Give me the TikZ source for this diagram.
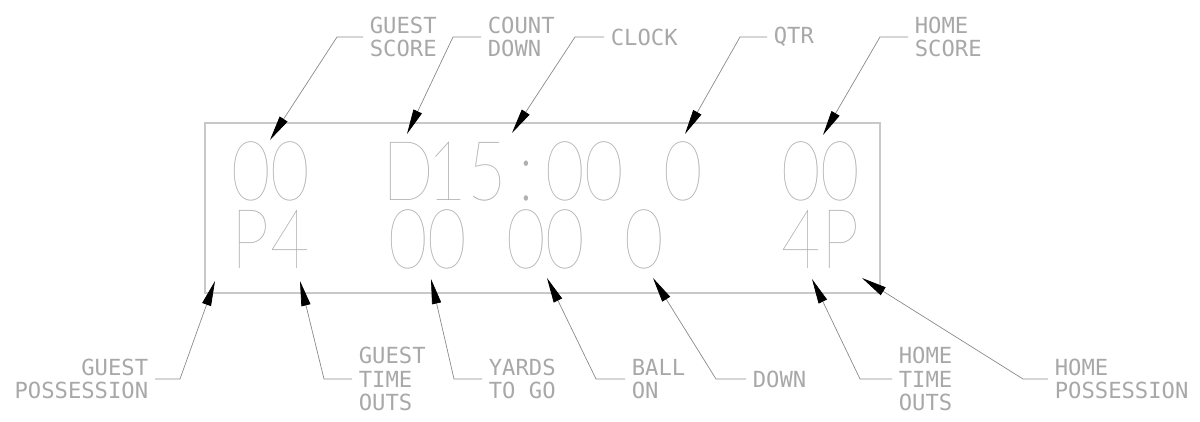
\documentclass[tikz,border=0pt]{standalone}
\usepackage{fontspec}
\usetikzlibrary{arrows.meta}
\IfFontExistsTF{Lato Hairline}{\newfontfamily\segfont[FakeStretch=0.82]{Lato Hairline}}{%
 \IfFontExistsTF{DejaVu Sans ExtraLight}{\newfontfamily\segfont[FakeStretch=0.82]{DejaVu Sans ExtraLight}}{%
 \newfontfamily\segfont[FakeStretch=0.82]{DejaVu Sans}}}
\newfontfamily\labfont{DejaVu Sans Mono}
\definecolor{segc}{HTML}{B0B0B0}
\definecolor{boxc}{HTML}{C8C8C8}
\definecolor{labc}{HTML}{A8A8A8}
\definecolor{leadc}{HTML}{8A8A8A}
\tikzset{
  seg/.style={font=\segfont\fontsize{41.5}{41.5}\selectfont, text=segc, inner sep=0pt, anchor=base},
  lab/.style={font=\labfont\fontsize{11.1}{11.7}\selectfont, text=labc, inner xsep=3.2pt, inner ysep=0pt},
  lead/.style={draw=leadc, line width=0.35pt, -{Triangle[length=12.5pt,width=4.6pt,color=black]}},
  panel/.style={draw=boxc, line width=0.6pt}
}
\begin{document}
\begin{tikzpicture}[x=0.5pt,y=-0.5pt]
\useasboundingbox (0,0) rectangle (1200,422);
% panel
\draw[panel] (205,123) rectangle (880,293);
% digits top row
\foreach \c/\ch in {0/0,1/0,4/D,5/1,6/5,7/:,8/0,9/0,11/0,14/0,15/0}
  \node[seg] (t\c) at ({251+39.3*\c},201) {\ch};
% digits bottom row
\foreach \c/\ch in {0/P,1/4,4/0,5/0,7/0,8/0,10/0,14/4,15/P}
  \node[seg] (b\c) at ({251+39.3*\c},269) {\ch};
% top labels
\node[lab, anchor=west, align=left] (gsl) at (363,37) {GUEST\\SCORE};
\node[lab, anchor=west, align=left] (cdl) at (481,37) {COUNT\\DOWN};
\node[lab, anchor=west, align=left] (cll) at (604,37) {CLOCK};
\node[lab, anchor=west, align=left] (qtl) at (767,37) {QTR};
\node[lab, anchor=west, align=left] (hsl) at (908,37) {HOME\\SCORE};
% bottom labels
\node[lab, anchor=east, align=right] (gpl) at (155,379) {GUEST\\POSSESSION};
\node[lab, anchor=west, align=left] (gtl) at (352,379) {GUEST\\TIME\\OUTS};
\node[lab, anchor=west, align=left] (ydl) at (482,379) {YARDS\\TO GO};
\node[lab, anchor=west, align=left] (bol) at (625,379) {BALL\\ON};
\node[lab, anchor=west, align=left] (dnl) at (746,379) {DOWN};
\node[lab, anchor=west, align=left] (htl) at (892,379) {HOME\\TIME\\OUTS};
\node[lab, anchor=west, align=left] (hpl) at (1048,379) {HOME\\POSSESSION};
% bends
\coordinate (gsb) at (337,37);
\coordinate (cdb) at (453,37);
\coordinate (clb) at (575,37);
\coordinate (qtb) at (740,37);
\coordinate (hsb) at (880,37);
\coordinate (gpb) at (180,379);
\coordinate (gtb) at (324,379);
\coordinate (ydb) at (454,379);
\coordinate (bob) at (596,379);
\coordinate (dnb) at (716,379);
\coordinate (htb) at (860,379);
\coordinate (hpb) at (1023,379);
% tips
\coordinate (gst) at (270,140);
\coordinate (cdt) at (407,134);
\coordinate (clt) at (512,133);
\coordinate (qtt) at (685,134);
\coordinate (hst) at (823,135);
\coordinate (gpt) at (215,281);
\coordinate (gtt) at (300,281);
\coordinate (ydt) at (431,279);
\coordinate (bot) at (547,278);
\coordinate (dnt) at (653,278);
\coordinate (htt) at (812,279);
\coordinate (hpt) at (862,278);
% connectors
\draw[lead] (gsl.west) -- (gsb) -- (gst);
\draw[lead] (cdl.west) -- (cdb) -- (cdt);
\draw[lead] (cll.west) -- (clb) -- (clt);
\draw[lead] (qtl.west) -- (qtb) -- (qtt);
\draw[lead] (hsl.west) -- (hsb) -- (hst);
\draw[lead] (gpl.east) -- (gpb) -- (gpt);
\draw[lead] (gtl.west) -- (gtb) -- (gtt);
\draw[lead] (ydl.west) -- (ydb) -- (ydt);
\draw[lead] (bol.west) -- (bob) -- (bot);
\draw[lead] (dnl.west) -- (dnb) -- (dnt);
\draw[lead] (htl.west) -- (htb) -- (htt);
\draw[lead] (hpl.west) -- (hpb) -- (hpt);
\end{tikzpicture}
\end{document}
